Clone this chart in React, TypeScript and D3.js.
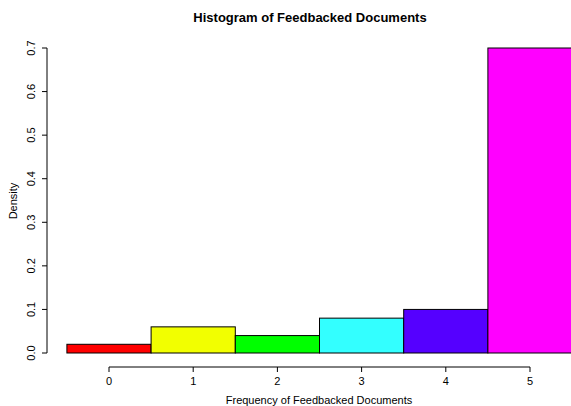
import React from "react";
import * as d3 from "d3";

// histogram bins (centered on integer values)
const binCenters = [0, 1, 2, 3, 4, 5];
const densities = [0.02, 0.06, 0.04, 0.08, 0.1, 0.7];
const binColors = ["#FF0000", "#F2FF00", "#00FF00", "#33FFFF", "#5500FF", "#FF00FF"];
const xTicks = [0, 1, 2, 3, 4, 5];
const yTicks = [0, 0.1, 0.2, 0.3, 0.4, 0.5, 0.6, 0.7];

const W = 571;
const H = 406;
const font = "'Liberation Sans', Arial, Helvetica, sans-serif";

export default function App() {
  const x = d3.scaleLinear().domain([0, 5]).range([109, 530]);
  const y = d3.scaleLinear().domain([0, 0.7]).range([353, 48]);
  const axisY = 367;
  const axisX = 47;

  return (
    <svg
      width={W}
      height={H}
      style={{ position: "absolute", left: 0, top: 0, background: "#fff" }}
      fontFamily={font}
    >
      <defs>
        <clipPath id="plot">
          <rect x={0} y={0} width={W} height={H} />
        </clipPath>
      </defs>

      {/* bars */}
      <g clipPath="url(#plot)">
        {binCenters.map((c, i) => (
          <rect
            key={c}
            x={x(c - 0.5)}
            y={y(densities[i])}
            width={x(c + 0.5) - x(c - 0.5)}
            height={y(0) - y(densities[i])}
            fill={binColors[i]}
            stroke="#000"
            strokeWidth={1}
          />
        ))}
      </g>

      {/* x axis */}
      <g>
        <line x1={x(0)} x2={x(5)} y1={axisY} y2={axisY} stroke="#000" />
        {xTicks.map((t) => (
          <g key={t}>
            <line x1={x(t)} x2={x(t)} y1={axisY} y2={axisY + 5} stroke="#000" />
            <text x={x(t)} y={axisY + 18} textAnchor="middle" fontSize={11}>
              {t}
            </text>
          </g>
        ))}
      </g>

      {/* y axis */}
      <g>
        <line x1={axisX} x2={axisX} y1={y(0)} y2={y(0.7)} stroke="#000" />
        {yTicks.map((t) => (
          <g key={t}>
            <line x1={axisX - 5} x2={axisX} y1={y(t)} y2={y(t)} stroke="#000" />
            <text
              transform={`translate(${axisX - 12},${y(t)}) rotate(-90)`}
              textAnchor="middle"
              fontSize={11}
            >
              {d3.format(".1f")(t)}
            </text>
          </g>
        ))}
      </g>

      {/* titles */}
      <text x={310} y={22} textAnchor="middle" fontSize={13} fontWeight="bold">
        Histogram of Feedbacked Documents
      </text>
      <text x={319} y={404} textAnchor="middle" fontSize={11}>
        Frequency of Feedbacked Documents
      </text>
      <text transform={`translate(17,201) rotate(-90)`} textAnchor="middle" fontSize={11}>
        Density
      </text>
    </svg>
  );
}
